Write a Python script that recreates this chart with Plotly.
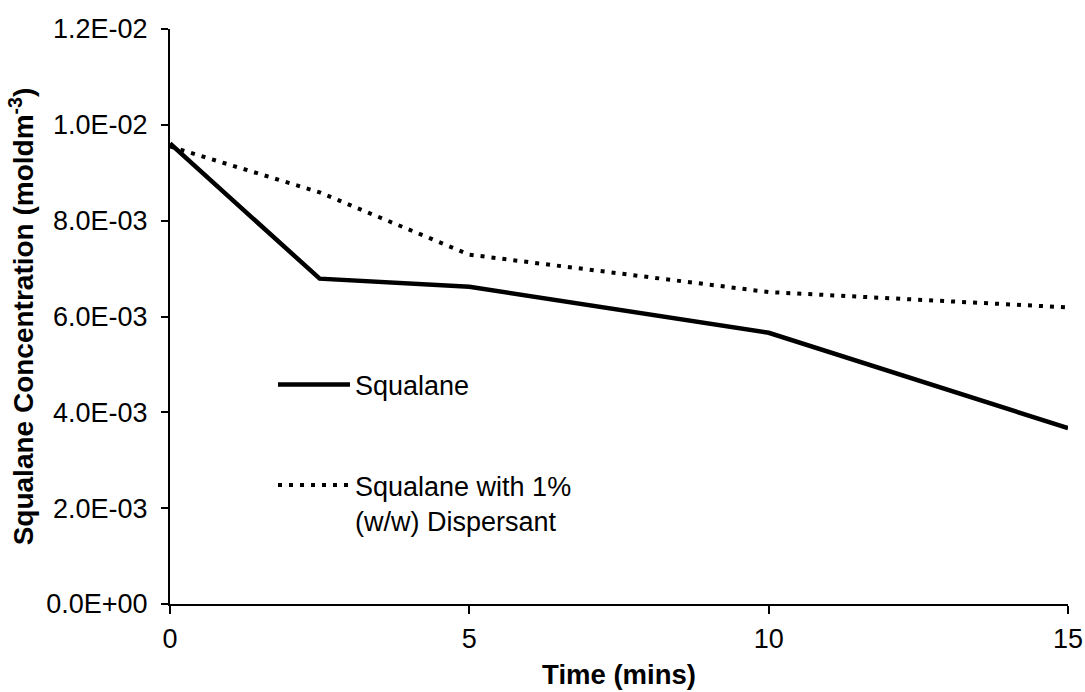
import plotly.graph_objects as go

time_mins = [0, 2.5, 5, 10, 15]
squalane = [9.61e-3, 6.79e-3, 6.62e-3, 5.66e-3, 3.67e-3]
squalane_disp = [9.55e-3, 8.59e-3, 7.29e-3, 6.51e-3, 6.19e-3]

y_tickvals = [0, 0.002, 0.004, 0.006, 0.008, 0.010, 0.012]
y_ticktext = ["0.0E+00", "2.0E-03", "4.0E-03", "6.0E-03", "8.0E-03", "1.0E-02", "1.2E-02"]
x_tickvals = [0, 5, 10, 15]

W, H = 1085, 692
SX0, SX1, SY0, SY1 = 170, 1068, 29, 604          # plot area in window pixels
L, R, T, B = SX0, W - SX1, SY0, H - SY1
FONT = "Liberation Sans, Arial, sans-serif"


def px(xs):
    return (xs - SX0) / (SX1 - SX0)


def py(ys):
    return (SY1 - ys) / (SY1 - SY0)


fig = go.Figure()
fig.add_trace(go.Scatter(
    x=time_mins, y=squalane, mode="lines", name="Squalane",
    line=dict(color="black", width=4.5), cliponaxis=False, legend="legend"))
fig.add_trace(go.Scatter(
    x=time_mins, y=squalane_disp, mode="lines",
    name="Squalane with 1%<br>(w/w) Dispersant",
    line=dict(color="black", width=4, dash="4px,7px"), cliponaxis=False, legend="legend2"))

fig.update_layout(
    width=W, height=H, showlegend=True,
    margin=dict(l=L, r=R, t=T, b=B, autoexpand=False),
    paper_bgcolor="white", plot_bgcolor="white",
    font=dict(family=FONT, size=27, color="black"),
    legend=dict(x=px(273), y=py(385), xanchor="left", yanchor="middle", visible=True,
                bgcolor="rgba(0,0,0,0)", font=dict(size=27), itemwidth=72),
    legend2=dict(x=px(273), y=py(461), xanchor="left", yanchor="top", visible=True,
                 bgcolor="rgba(0,0,0,0)", font=dict(size=27), itemwidth=72, valign="top"),
    xaxis=dict(range=[0, 15], tickvals=x_tickvals, showline=True, linecolor="black",
               linewidth=2, ticks="outside", ticklen=8, tickwidth=2, tickcolor="black",
               showgrid=False, zeroline=False, ticklabelstandoff=2, automargin=False,
               tickfont=dict(size=27),
               title=dict(text="<b>Time (mins)</b>", font=dict(size=27.5), standoff=11)),
    yaxis=dict(range=[0, 0.012], tickvals=y_tickvals, ticktext=y_ticktext, showline=True,
               linecolor="black", linewidth=2, ticks="outside", ticklen=7, tickwidth=2,
               tickcolor="black", showgrid=False, zeroline=False, ticklabelstandoff=8,
               automargin=False, tickfont=dict(size=27),
               title=dict(text="<b>Squalane Concentration (moldm<sup>-3</sup>)</b>",
                          font=dict(size=28), standoff=4)),
)

fig.write_html("out.html", config={"displayModeBar": False},
               post_script="document.body.style.margin='0';document.body.style.overflow='hidden';")
